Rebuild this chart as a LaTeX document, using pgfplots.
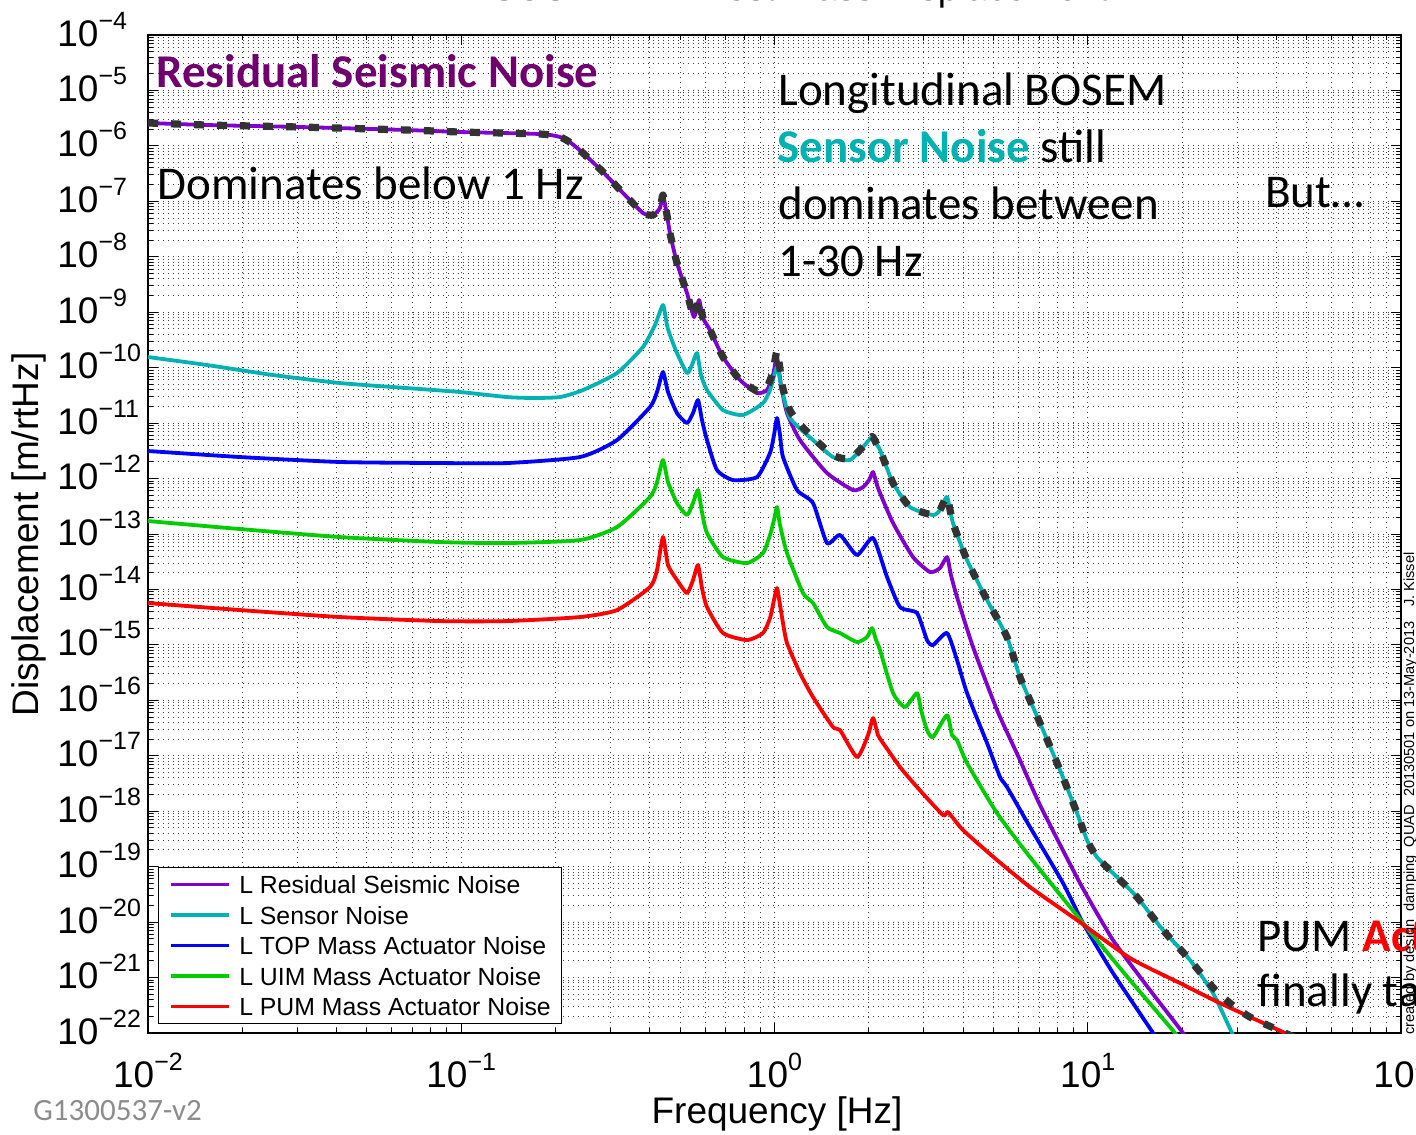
\documentclass[border=0pt]{standalone}
\usepackage{fontspec}
\setmainfont{Liberation Sans}
\newfontfamily\calib{Carlito}
\usepackage{pgfplots}
\pgfplotsset{compat=1.18}
\definecolor{cpurple}{RGB}{128,0,204}
\definecolor{ccyan}{RGB}{0,178,178}
\definecolor{cblue}{RGB}{0,0,255}
\definecolor{cgreen}{RGB}{0,204,0}
\definecolor{cred}{RGB}{255,0,0}
\definecolor{cdash}{RGB}{51,51,51}
\definecolor{tpurple}{RGB}{112,0,112}
\definecolor{tteal}{RGB}{0,178,178}
\newcommand\tl[1]{10\raisebox{8.5pt}{\fontsize{12.5pt}{13pt}\selectfont #1}}
\newcommand\annot{\calib\fontsize{23.5pt}{28.5pt}\selectfont}
\begin{document}
\begin{tikzpicture}
\useasboundingbox (0,0) rectangle (708pt,567pt);
\clip (0,0) rectangle (708pt,567pt);
\begin{axis}[
  at={(74pt,50.5pt)}, anchor=south west,
  scale only axis, width=626.5pt, height=499pt,
  xmode=log, ymode=log,
  xmin=1e-2, xmax=1e2, ymin=1e-22, ymax=1e-4,
  xtick={1e-2,1e-1,1,1e1,1e2},
  xticklabels={\tl{−2},\tl{−1},\tl{0},\tl{1},\tl{2}},
  minor xtick={2e-2,3e-2,4e-2,5e-2,6e-2,7e-2,8e-2,9e-2,0.2,0.3,0.4,0.5,0.6,0.7,0.8,0.9,2,3,4,5,6,7,8,9,20,30,40,50,60,70,80,90},
  ytick={1e-22,1e-21,1e-20,1e-19,1e-18,1e-17,1e-16,1e-15,1e-14,1e-13,1e-12,1e-11,1e-10,1e-9,1e-8,1e-7,1e-6,1e-5,1e-4},
  yticklabels={\tl{−22},\tl{−21},\tl{−20},\tl{−19},\tl{−18},\tl{−17},\tl{−16},\tl{−15},\tl{−14},\tl{−13},\tl{−12},\tl{−11},\tl{−10},\tl{−9},\tl{−8},\tl{−7},\tl{−6},\tl{−5},\tl{−4}},
  minor ytick={2e-22,3e-22,4e-22,5e-22,6e-22,7e-22,8e-22,9e-22,
   2e-21,3e-21,4e-21,5e-21,6e-21,7e-21,8e-21,9e-21,
   2e-20,3e-20,4e-20,5e-20,6e-20,7e-20,8e-20,9e-20,
   2e-19,3e-19,4e-19,5e-19,6e-19,7e-19,8e-19,9e-19,
   2e-18,3e-18,4e-18,5e-18,6e-18,7e-18,8e-18,9e-18,
   2e-17,3e-17,4e-17,5e-17,6e-17,7e-17,8e-17,9e-17,
   2e-16,3e-16,4e-16,5e-16,6e-16,7e-16,8e-16,9e-16,
   2e-15,3e-15,4e-15,5e-15,6e-15,7e-15,8e-15,9e-15,
   2e-14,3e-14,4e-14,5e-14,6e-14,7e-14,8e-14,9e-14,
   2e-13,3e-13,4e-13,5e-13,6e-13,7e-13,8e-13,9e-13,
   2e-12,3e-12,4e-12,5e-12,6e-12,7e-12,8e-12,9e-12,
   2e-11,3e-11,4e-11,5e-11,6e-11,7e-11,8e-11,9e-11,
   2e-10,3e-10,4e-10,5e-10,6e-10,7e-10,8e-10,9e-10,
   2e-9,3e-9,4e-9,5e-9,6e-9,7e-9,8e-9,9e-9,
   2e-8,3e-8,4e-8,5e-8,6e-8,7e-8,8e-8,9e-8,
   2e-7,3e-7,4e-7,5e-7,6e-7,7e-7,8e-7,9e-7,
   2e-6,3e-6,4e-6,5e-6,6e-6,7e-6,8e-6,9e-6,
   2e-5,3e-5,4e-5,5e-5,6e-5,7e-5,8e-5,9e-5},
  tick label style={font=\fontsize{18.5pt}{22pt}\selectfont},
  xticklabel style={anchor=base, inner sep=0pt, yshift=-27pt},
  yticklabel style={anchor=base west, inner sep=0pt, xshift=-45.5pt, yshift=-5.5pt},
  grid=both,
  major grid style={line width=0.5pt, black!75, dash pattern=on 0.5pt off 2pt},
  minor grid style={line width=0.5pt, black!75, dash pattern=on 0.5pt off 2pt},
  tick align=inside,
  major tick length=5pt, minor tick length=2.5pt,
  every tick/.style={black, line width=0.5pt},
  axis line style={line width=0.8pt, black},
  title={L1:SUS ITMY L Test Mass Displacement},
  title style={at={(axis description cs:0.5,1.023)}, anchor=base, inner sep=0pt, font=\fontsize{18.5pt}{22pt}\selectfont},
  xlabel={Frequency [Hz]},
  xlabel style={at={(axis description cs:0.502,-0.0907)}, anchor=base, inner sep=0pt, font=\fontsize{18.5pt}{22pt}\selectfont},
  ylabel={Displacement [m/rtHz]},
  ylabel style={at={(axis description cs:-0.0874,0.4995)}, anchor=base, inner sep=0pt, rotate=0, font=\fontsize{18.5pt}{22pt}\selectfont},
  every axis plot/.append style={line width=1.9pt, line join=round, smooth, tension=0.35},
  legend style={at={(axis description cs:0.00798,0.16633)}, anchor=north west,
    draw=black, line width=0.5pt, fill=white,
    inner xsep=5.5pt, inner ysep=1pt, row sep=0.25pt,
    font=\fontsize{12.4pt}{15pt}\selectfont,
    nodes={inner sep=0pt, text height=12pt, text depth=3pt}},
  legend cell align=left,
  legend image code/.code={\draw[#1] (1pt,0pt) -- (30pt,0pt); \path (34pt,0pt);},
]
\addplot[cpurple] coordinates {
(0.01,2.59e-6) (0.01543,2.38e-6) (0.03057,2.19e-6) (0.0671,1.934e-6) (0.0991,1.78e-6)
(0.1784,1.638e-6) (0.2067,1.446e-6) (0.2241,1.127e-6) (0.2447,7.44e-7) (0.2835,3.38e-7)
(0.3284,1.413e-7) (0.3803,6.16e-8) (0.4094,5.67e-8) (0.4310,7.58e-8) (0.4405,1.30e-7)
(0.4536,5.67e-8) (0.4637,2.68e-8) (0.4882,7.72e-9) (0.5256,2.22e-9) (0.5534,8.19e-10)
(0.5741,1.66e-9) (0.5911,7.86e-10) (0.6223,4.77e-10) (0.6848,1.556e-10) (0.7762,5.99e-11)
(0.8792,3.49e-11) (0.9465,3.95e-11) (0.9890,7.37e-11) (1.0186,1.556e-10) (1.0489,4.86e-11)
(1.096,1.52e-11) (1.206,4.95e-12) (1.471,1.258e-12) (1.781,6.21e-13) (1.917,7.03e-13)
(2.004,9.40e-13) (2.063,1.311e-12) (2.124,7.64e-13) (2.172,5.48e-13) (2.390,1.576e-13)
(2.768,3.84e-14) (3.137,2.06e-14) (3.375,2.43e-14) (3.554,3.84e-14) (3.659,1.82e-14)
(3.825,7.29e-15) (4.303,9.14e-16) (5.133,6.68e-17) (6.076,8.37e-18) (7.041,1.292e-18)
(9.445,5.06e-20) (12.04,4.74e-21) (15.80,5.95e-22) (20.14,1e-22) (21.20,6.05e-23)
};
\addlegendentry{L Residual Seismic Noise}
\addplot[ccyan] coordinates {
(0.01,1.556e-10) (0.01543,1.116e-10) (0.02506,7.37e-11) (0.04102,5.28e-11) (0.0671,4.29e-11)
(0.0991,3.64e-11) (0.140,2.95e-11) (0.1694,2.84e-11) (0.2067,2.95e-11) (0.2447,3.95e-11)
(0.3143,8.0e-11) (0.3803,2.36e-10) (0.4155,5.88e-10) (0.4405,1.349e-9) (0.4536,5.88e-10)
(0.4637,3.88e-10) (0.4882,1.837e-10) (0.5256,8.0e-11) (0.5452,1.116e-10) (0.5657,1.837e-10)
(0.5826,7.37e-11) (0.6087,3.95e-11) (0.6848,1.722e-11) (0.7933,1.399e-11) (0.9189,2.30e-11)
(0.9674,3.95e-11) (1.0186,1.027e-10) (1.0489,4.86e-11) (1.121,1.235e-11) (1.327,4.95e-12)
(1.537,2.445e-12) (1.742,2.16e-12) (1.917,3.70e-12) (2.048,5.61e-12) (2.124,4.02e-12)
(2.172,3.27e-12) (2.390,8.30e-13) (2.708,3.06e-13) (3.206,2.20e-13) (3.375,2.71e-13)
(3.554,4.64e-13) (3.714,1.576e-13) (4.117,3.39e-14) (4.769,6.44e-15) (5.524,1.385e-15)
(6.076,2.63e-16) (7.041,3.89e-17) (8.155,5.53e-18) (9.241,9.26e-19) (9.945,3.02e-19)
(10.70,1.49e-19) (12.40,6.49e-20) (14.36,2.83e-20) (17.39,7.18e-21) (21.20,2.07e-21)
(25.11,5.25e-22) (28.88,1e-22) (30.62,5.35e-23)
};
\addlegendentry{L Sensor Noise}
\addplot[cblue] coordinates {
(0.01,3.14e-12) (0.01966,2.445e-12) (0.04102,1.99e-12) (0.0855,1.905e-12) (0.140,1.905e-12)
(0.2394,2.445e-12) (0.3143,4.95e-12) (0.4005,1.95e-11) (0.4216,3.64e-11) (0.4405,8.34e-11)
(0.4571,3.64e-11) (0.4882,1.52e-11) (0.5256,1.003e-11) (0.5493,1.52e-11) (0.5699,2.61e-11)
(0.5868,1.137e-11) (0.6087,4.95e-12) (0.6551,1.425e-12) (0.7372,9.40e-13) (0.8792,1.065e-12)
(0.9674,2.89e-12) (0.9963,6.10e-12) (1.0186,1.235e-11) (1.0414,6.10e-12) (1.0644,2.445e-12)
(1.180,6.21e-13) (1.327,3.62e-13) (1.471,6.87e-14) (1.619,9.58e-14) (1.834,4.17e-14)
(2.063,8.46e-14) (2.287,1.674e-14) (2.516,4.81e-15) (2.851,3.75e-15) (3.068,1.223e-15)
(3.206,9.93e-16) (3.554,1.635e-15) (3.825,5.33e-16) (4.117,1.353e-16) (4.769,1.696e-17)
(5.248,4.13e-18) (5.524,2.73e-18) (6.541,5.18e-19) (8.337,5.06e-20) (9.656,9.61e-21)
(12.04,1.205e-21) (16.16,1e-22) (17.05,5.8e-23)
};
\addlegendentry{L TOP Mass Actuator Noise}
\addplot[cgreen] coordinates {
(0.01,1.713e-13) (0.01966,1.229e-13) (0.04102,8.81e-14) (0.0855,7.16e-14) (0.140,6.87e-14)
(0.2394,7.78e-14) (0.3143,1.335e-13) (0.4005,4.64e-13) (0.4216,8.65e-13) (0.4405,2.16e-12)
(0.4571,8.65e-13) (0.4882,3.62e-13) (0.5256,2.20e-13) (0.5493,3.62e-13) (0.5699,6.21e-13)
(0.5868,2.49e-13) (0.6087,1.04e-13) (0.6848,3.84e-14) (0.8170,2.99e-14) (0.9189,4.54e-14)
(0.9674,9.58e-14) (0.9963,1.786e-13) (1.0186,3.06e-13) (1.0414,1.45e-13) (1.096,4.54e-14)
(1.233,8.61e-15) (1.327,5.69e-15) (1.471,2.10e-15) (1.619,1.635e-15) (1.834,1.125e-15)
(1.974,1.385e-15) (2.048,2.01e-15) (2.109,1.223e-15) (2.172,8.07e-16) (2.390,1.353e-16)
(2.610,7.56e-17) (2.851,1.353e-16) (2.936,6.68e-17) (3.068,2.91e-17) (3.206,2.18e-17)
(3.554,5.43e-17) (3.686,2.36e-17) (3.825,1.92e-17) (4.117,7.39e-18) (5.133,9.26e-19)
(6.541,1.49e-19) (9.656,9.61e-21) (13.64,9.01e-22) (18.99,1e-22) (20.14,5.8e-23)
};
\addlegendentry{L UIM Mass Actuator Noise}
\addplot[cred] coordinates {
(0.01,5.69e-15) (0.01966,4.25e-15) (0.04102,3.18e-15) (0.0855,2.69e-15) (0.140,2.69e-15)
(0.2394,3.18e-15) (0.3143,4.25e-15) (0.4005,1.105e-14) (0.4216,2.24e-14) (0.4405,8.81e-14)
(0.4571,2.755e-14) (0.4882,1.478e-14) (0.5256,8.61e-15) (0.5493,1.478e-14) (0.5699,2.755e-14)
(0.5868,1.06e-14) (0.6087,4.81e-15) (0.6848,1.635e-15) (0.8170,1.223e-15) (0.9189,1.635e-15)
(0.9674,3.05e-15) (0.9963,6.44e-15) (1.0186,1.06e-14) (1.0414,5.23e-15) (1.0644,2.48e-15)
(1.096,1.08e-15) (1.206,3.10e-16) (1.327,1.146e-16) (1.537,3.30e-17) (1.619,2.91e-17)
(1.834,9.48e-18) (1.989,2.36e-17) (2.063,4.79e-17) (2.140,2.36e-17) (2.221,1.696e-17)
(2.516,6.26e-18) (2.851,2.73e-18) (3.451,8.52e-19) (3.580,9.66e-19) (3.998,4.57e-19)
(5.133,1.315e-19) (6.541,4.29e-20) (9.241,1.089e-20) (13.64,2.25e-21) (19.70,7.95e-22)
(26.44,3.46e-22) (42.64,1e-22) (47.6,7.45e-23)
};
\addlegendentry{L PUM Mass Actuator Noise}
\addplot[cdash, line width=3.6pt, dash pattern=on 5pt off 6.5pt, forget plot] coordinates {
(0.01,2.59e-6) (0.01543,2.38e-6) (0.03057,2.19e-6) (0.0671,1.934e-6) (0.0991,1.78e-6)
(0.1784,1.638e-6) (0.2067,1.446e-6) (0.2241,1.127e-6) (0.2447,7.44e-7) (0.2835,3.38e-7)
(0.3284,1.413e-7) (0.3803,6.16e-8) (0.4094,5.67e-8) (0.4310,7.58e-8) (0.4405,1.30e-7)
(0.4536,5.67e-8) (0.4637,2.68e-8) (0.4882,7.72e-9) (0.5256,2.22e-9) (0.5534,8.19e-10)
(0.5741,1.66e-9) (0.5911,7.86e-10) (0.6223,4.77e-10) (0.6848,1.556e-10) (0.7762,5.99e-11)
(0.8792,3.84e-11) (0.9465,4.5e-11) (0.9890,8.5e-11) (1.0186,2.0e-10) (1.0489,6.9e-11)
(1.0644,4.14e-11) (1.121,1.68e-11) (1.206,9.5e-12) (1.327,5.5e-12) (1.537,2.62e-12)
(1.742,2.26e-12) (1.917,3.77e-12) (2.048,5.76e-12) (2.124,4.02e-12)
(2.172,3.27e-12) (2.390,8.30e-13) (2.708,3.06e-13) (3.206,2.20e-13) (3.375,2.71e-13)
(3.554,4.64e-13) (3.714,1.576e-13) (4.117,3.39e-14) (4.769,6.44e-15) (5.524,1.385e-15)
(6.076,2.63e-16) (7.041,3.89e-17) (8.155,5.53e-18) (9.241,9.26e-19) (9.945,3.02e-19)
(10.70,1.49e-19) (12.40,6.49e-20) (14.36,2.83e-20) (17.39,7.18e-21) (21.20,2.07e-21)
(25.11,6.6e-22) (28.46,3.45e-22) (32.96,1.94e-22) (42.64,1e-22) (47.6,7.45e-23)
};
\end{axis}
\begin{scope}[x=0.5pt,y=-0.5pt,shift={(0pt,567pt)}]
\node[anchor=base west, inner sep=0pt, text=tpurple, font=\annot\bfseries] at (156,88) {Residual Seismic Noise};
\node[anchor=base west, inner sep=0pt, font=\annot] at (157,200) {Dominates below 1 Hz};
\node[anchor=base west, inner sep=0pt, font=\annot] at (778,106) {Longitudinal BOSEM};
\node[anchor=base west, inner sep=0pt, font=\annot] at (777,163) {\textcolor{tteal}{\bfseries Sensor Noise} still};
\node[anchor=base west, inner sep=0pt, font=\annot] at (778,220) {dominates between};
\node[anchor=base west, inner sep=0pt, font=\annot] at (778,277) {1-30 Hz};
\node[anchor=base west, inner sep=0pt, font=\annot] at (1265,208) {But…};
\node[anchor=base west, inner sep=0pt, font=\annot] at (1257,951) {PUM \textcolor{cred}{\bfseries Actuator Noise}};
\node[anchor=base west, inner sep=0pt, font=\annot] at (1257,1006) {finally takes over};
\node[anchor=base west, inner sep=0pt, text=black!45, font=\calib\fontsize{15.5pt}{18pt}\selectfont] at (33,1120) {G1300537-v2};
\node[rotate=90, anchor=base west, inner sep=0pt, font=\fontsize{7.3pt}{9pt}\selectfont] at (1414,1035) {created by design\_damping\_QUAD\_20130501 on 13-May-2013\quad J. Kissel};
\end{scope}
\end{tikzpicture}
\end{document}
